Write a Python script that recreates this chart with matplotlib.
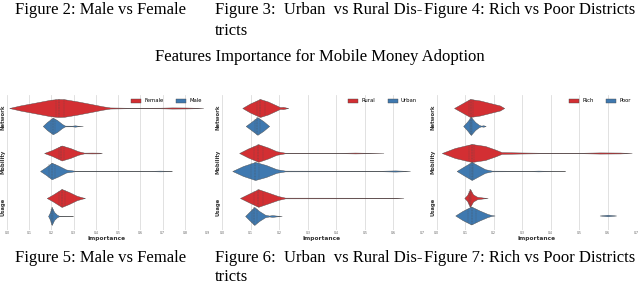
import numpy as np
import matplotlib
matplotlib.use("Agg")
import matplotlib.pyplot as plt
from matplotlib.patches import Patch

# Data: violin outlines as (importance, half width)
features = ['Network', 'Mobility', 'Usage']
nan = np.nan

# Figure 5: Male vs Female
gender_groups = ['Female', 'Male']
gender_ticks = [0.0, 0.1, 0.2, 0.3, 0.4, 0.5, 0.6, 0.7, 0.8, 0.9]
gender_x = {
    ('Network', 'Female'): [0.010, 0.059, 0.126, 0.194, 0.230, 0.257, 0.320, 0.383, 0.428, 0.464, 0.554, 0.689, 0.743, 0.802, 0.856, 0.883],
    ('Network', 'Male'): [0.161, 0.180, 0.206, 0.225, 0.248, 0.261, 0.293, 0.306, 0.320, 0.341],
    ('Mobility', 'Female'): [0.167, 0.203, 0.246, 0.284, 0.320, 0.347, 0.383, 0.414, 0.427],
    ('Mobility', 'Male'): [0.149, 0.176, 0.201, 0.230, 0.266, 0.306, 0.644, 0.689, 0.725, 0.742],
    ('Usage', 'Female'): [0.179, 0.207, 0.246, 0.279, 0.314, 0.338, 0.351],
    ('Usage', 'Male'): [0.185, 0.194, 0.201, 0.212, 0.225, 0.234, 0.248, 0.297],
}
gender_w = {
    ('Network', 'Female'): [0, 0.056, 0.118, 0.182, 0.200, 0.196, 0.144, 0.084, 0.040, 0.012, 0.005, 0.007, 0.013, 0.011, 0.005, 0],
    ('Network', 'Male'): [0, 0.089, 0.184, 0.133, 0.044, 0.008, 0.007, 0.015, 0.005, 0],
    ('Mobility', 'Female'): [0, 0.067, 0.167, 0.111, 0.040, 0.008, 0.010, 0.008, 0],
    ('Mobility', 'Male'): [0, 0.089, 0.184, 0.122, 0.033, 0.005, 0.004, 0.009, 0.004, 0],
    ('Usage', 'Female'): [0, 0.078, 0.200, 0.133, 0.049, 0.015, 0],
    ('Usage', 'Male'): [0, 0.089, 0.200, 0.089, 0.027, 0.006, 0.004, 0],
}
gender_q = {
    ('Network', 'Female'): [0.221, 0.236, 0.257],
    ('Network', 'Male'): [0.198, 0.206, 0.216],
    ('Mobility', 'Female'): [0.234, 0.245, 0.257],
    ('Mobility', 'Male'): [0.191, 0.201, 0.214],
    ('Usage', 'Female'): [0.232, 0.246, 0.261],
    ('Usage', 'Male'): [0.198, 0.201, 0.205],
}

# Figure 6: Urban vs Rural Districts
area_groups = ['Rural', 'Urban']
area_ticks = [0.0, 0.1, 0.2, 0.3, 0.4, 0.5, 0.6, 0.7]
area_x = {
    ('Network', 'Rural'): [0.071, 0.098, 0.133, 0.161, 0.191, 0.203, 0.214, 0.224, 0.232],
    ('Network', 'Urban'): [0.083, 0.102, 0.124, 0.144, 0.165],
    ('Mobility', 'Rural'): [0.060, 0.091, 0.127, 0.161, 0.191, 0.221, 0.413, 0.466, 0.511, 0.565],
    ('Mobility', 'Urban'): [0.036, 0.074, 0.116, 0.154, 0.191, 0.221, 0.553, 0.606, 0.641, 0.658],
    ('Usage', 'Rural'): [0.063, 0.095, 0.127, 0.161, 0.196, 0.221, 0.606, 0.635],
    ('Usage', 'Urban'): [0.081, 0.095, 0.113, 0.130, 0.151, 0.165, 0.176, 0.189, 0.209],
}
area_w = {
    ('Network', 'Rural'): [0, 0.100, 0.200, 0.144, 0.056, 0.020, 0.025, 0.010, 0],
    ('Network', 'Urban'): [0, 0.089, 0.196, 0.111, 0],
    ('Mobility', 'Rural'): [0, 0.100, 0.196, 0.122, 0.040, 0.006, 0.004, 0.010, 0.005, 0],
    ('Mobility', 'Urban'): [0, 0.111, 0.200, 0.133, 0.040, 0.008, 0.005, 0.013, 0.005, 0],
    ('Usage', 'Rural'): [0, 0.100, 0.196, 0.122, 0.044, 0.008, 0.006, 0],
    ('Usage', 'Urban'): [0, 0.089, 0.200, 0.111, 0.027, 0.010, 0.020, 0.010, 0],
}
area_q = {
    ('Network', 'Rural'): [0.121, 0.133, 0.150],
    ('Network', 'Urban'): [0.114, 0.124, 0.133],
    ('Mobility', 'Rural'): [0.112, 0.127, 0.144],
    ('Mobility', 'Urban'): [0.102, 0.116, 0.130],
    ('Usage', 'Rural'): [0.112, 0.127, 0.142],
    ('Usage', 'Urban'): [0.105, 0.113, 0.123],
}

# Figure 7: Rich vs Poor Districts
wealth_groups = ['Rich', 'Poor']
wealth_ticks = [0.0, 0.1, 0.2, 0.3, 0.4, 0.5, 0.6, 0.7]
wealth_x = {
    ('Network', 'Rich'): [0.061, 0.089, 0.117, 0.152, 0.187, 0.222, 0.237],
    ('Network', 'Poor'): [0.093, 0.106, 0.120, 0.135, 0.149, 0.156, 0.164, 0.172],
    ('Mobility', 'Rich'): [0.018, 0.064, 0.123, 0.170, 0.205, 0.228, 0.293, 0.364, 0.504, 0.574, 0.644, 0.685],
    ('Mobility', 'Poor'): [0.070, 0.096, 0.123, 0.149, 0.170, 0.194, 0.328, 0.357, 0.391, 0.451],
    ('Usage', 'Rich'): [0.097, 0.107, 0.117, 0.128, 0.142, 0.163, 0.179],
    ('Usage', 'Poor'): [0.067, 0.092, 0.123, 0.152, 0.181, 0.194, 0.205, nan, 0.574, 0.602, 0.632],
}
wealth_w = {
    ('Network', 'Rich'): [0, 0.100, 0.200, 0.167, 0.111, 0.056, 0],
    ('Network', 'Poor'): [0, 0.089, 0.200, 0.089, 0.022, 0.008, 0.016, 0],
    ('Mobility', 'Rich'): [0, 0.111, 0.200, 0.156, 0.078, 0.020, 0.012, 0.006, 0.005, 0.013, 0.010, 0],
    ('Mobility', 'Poor'): [0, 0.100, 0.200, 0.111, 0.040, 0.008, 0.004, 0.009, 0.004, 0],
    ('Usage', 'Rich'): [0, 0.067, 0.200, 0.078, 0.027, 0.010, 0],
    ('Usage', 'Poor'): [0, 0.100, 0.200, 0.111, 0.033, 0.010, 0, nan, 0, 0.018, 0],
}
wealth_q = {
    ('Network', 'Rich'): [0.113, 0.121, 0.128],
    ('Network', 'Poor'): [0.117, 0.120, 0.124],
    ('Mobility', 'Rich'): [0.113, 0.123, 0.131],
    ('Mobility', 'Poor'): [0.117, 0.123, 0.129],
    ('Usage', 'Rich'): [0.114, 0.117, 0.120],
    ('Usage', 'Poor'): [0.109, 0.123, 0.139],
}

RED = '#d32f33'
BLUE = '#3f79b0'
EDGE = '#4a4a4a'
colors = [RED, BLUE]


def draw_panel(ax, groups, xs, ws, qs, ticks):
    for i, feat in enumerate(features):
        for j, g in enumerate(groups):
            pos = i - 0.2 if j == 0 else i + 0.2
            x = np.array(xs[(feat, g)], dtype=float)
            w = np.array(ws[(feat, g)], dtype=float)
            ax.fill_between(x, pos - w, pos + w, facecolor=colors[j],
                            edgecolor=EDGE, lw=0.3, zorder=2)
            ok = ~np.isnan(x)
            for k, q in enumerate(qs[(feat, g)]):
                h = np.interp(q, x[ok], w[ok])
                ls = (0, (2.0, 1.2)) if k == 1 else (0, (0.6, 0.8))
                ax.plot([q, q], [pos - h, pos + h], color=EDGE, lw=0.35,
                        ls=ls, zorder=3)
    ax.set_xlim(ticks[0], ticks[-1])
    ax.set_ylim(2.5, -0.5)
    ax.set_xticks(ticks)
    ax.set_xticklabels([f'{t:.1f}' for t in ticks], fontsize=2.2, color='#555555')
    ax.set_yticks(range(len(features)))
    ax.set_yticklabels(features, rotation=90, va='center', fontsize=3.8,
                       fontweight='bold', color='#333333')
    ax.tick_params(length=0, pad=1.2)
    ax.grid(axis='x', color='#dcdcdc', lw=0.6)
    ax.set_axisbelow(True)
    for s in ax.spines.values():
        s.set_visible(False)
    ax.set_xlabel('Importance', fontsize=4.2, fontweight='bold',
                  color='#333333', labelpad=0.6)
    handles = [Patch(facecolor=colors[j], edgecolor=EDGE, lw=0.3, label=g)
               for j, g in enumerate(groups)]
    ax.legend(handles=handles, loc='center right', bbox_to_anchor=(0.975, 0.952),
              ncol=2, frameon=False, fontsize=3.8, handlelength=1.9,
              handleheight=0.8, handletextpad=0.6, columnspacing=2.4,
              borderaxespad=0, borderpad=0)


fig = plt.figure(figsize=(6.4, 2.87), dpi=100)
W, H = 640, 287
bottom = 1 - 229.5 / H
height = 135 / H
ax1 = fig.add_axes([7 / W, bottom, 200 / W, height])
ax2 = fig.add_axes([222 / W, bottom, 200 / W, height])
ax3 = fig.add_axes([436.7 / W, bottom, 199.3 / W, height])

draw_panel(ax1, gender_groups, gender_x, gender_w, gender_q, gender_ticks)
draw_panel(ax2, area_groups, area_x, area_w, area_q, area_ticks)
draw_panel(ax3, wealth_groups, wealth_x, wealth_w, wealth_q, wealth_ticks)

serif = dict(family='Liberation Serif', fontsize=12.0, color='black', va='center')
fig.text(15 / W, 1 - 10 / H, 'Figure 2: Male vs Female', **serif)
fig.text(215 / W, 1 - 10 / H, 'Figure 3:  Urban  vs Rural Dis-', **serif)
fig.text(215 / W, 1 - 31 / H, 'tricts', **serif)
fig.text(424 / W, 1 - 10 / H, 'Figure 4: Rich vs Poor Districts', **serif)
fig.text(0.5, 1 - 57 / H, 'Features Importance for Mobile Money Adoption',
         ha='center', **serif)
fig.text(15 / W, 1 - 258 / H, 'Figure 5: Male vs Female', **serif)
fig.text(215 / W, 1 - 258 / H, 'Figure 6:  Urban  vs Rural Dis-', **serif)
fig.text(215 / W, 1 - 277 / H, 'tricts', **serif)
fig.text(424 / W, 1 - 258 / H, 'Figure 7: Rich vs Poor Districts', **serif)

fig.savefig('out.png', dpi=100)
